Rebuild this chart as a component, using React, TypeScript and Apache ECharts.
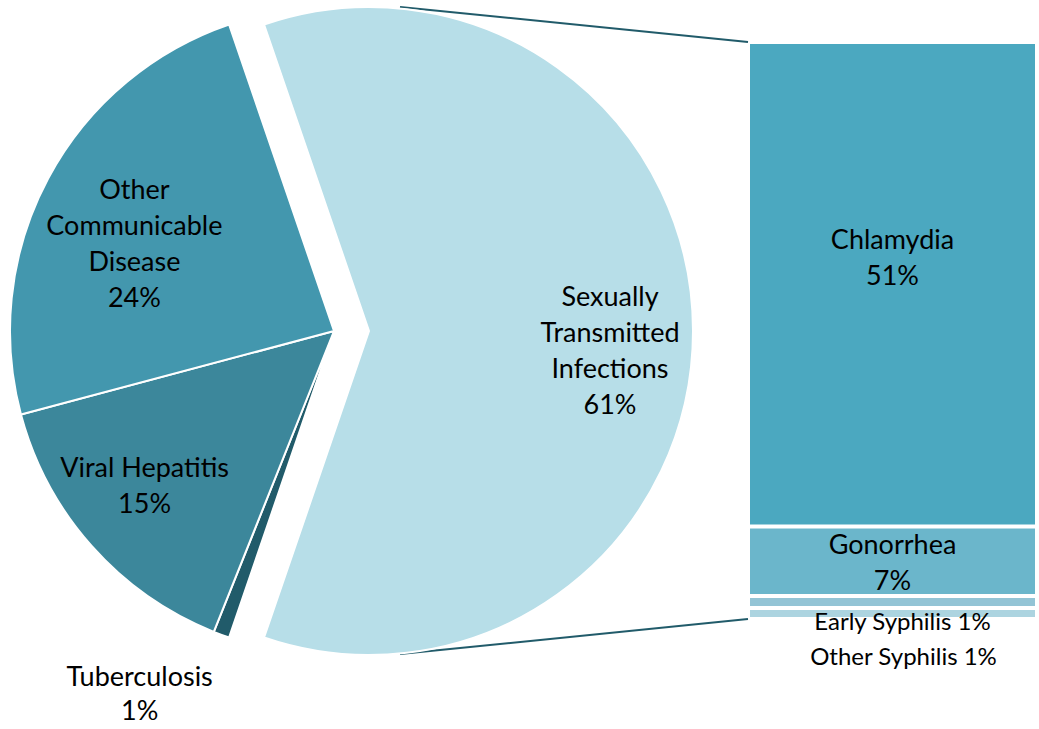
import React, { useEffect, useRef } from "react";
import * as echarts from "echarts";

// Pie (left): share of all reported communicable disease cases
const pieNames = ["Sexually\nTransmitted\nInfections", "Tuberculosis", "Viral Hepatitis", "Other\nCommunicable\nDisease"];
const pieValues = [60.5, 0.8, 14.8, 23.9];
const pieLabels = ["61%", "1%", "15%", "24%"];

// Bar (right): breakdown of Sexually Transmitted Infections (bottom to top)
const barNames = ["Other Syphilis", "Early Syphilis", "Gonorrhea", "Chlamydia"];
const barValues = [1.15, 1.25, 7.3, 50.8];
const barLabels = ["1%", "1%", "7%", "51%"];

const FONT = "Lato, 'Open Sans', sans-serif";

export default function App() {
  const ref = useRef<HTMLDivElement>(null);
  useEffect(() => {
    if (!ref.current) return;
    const chart = echarts.init(ref.current, undefined, { renderer: "svg" });
    const pieColors = ["#b7dee8", "#215b6a", "#3c879b", "#4397ae"];
    const barColors = ["#acd4e0", "#93c4d5", "#6bb6cb", "#4ba8c0"];
    const pieShift: Record<number, [number, number]> = {
      0: [76, 18],
      1: [-137, 207],
      2: [-66, 44],
      3: [-54, -11],
    };
    const barOffsets: [number, number][] = [
      [11, 42],
      [10, 18],
      [0, 0],
      [0, -28],
    ];
    const barInline = [true, true, false, false];
    const total = barValues.reduce((a, b) => a + b, 0);

    chart.setOption({
      animation: false,
      textStyle: { fontFamily: FONT },
      grid: { left: 748, top: 42, width: 289, height: 577 },
      xAxis: { type: "category", data: ["STI"], show: false },
      yAxis: { type: "value", min: 0, max: total, show: false },
      series: [
        {
          type: "pie",
          center: [334, 331],
          radius: [0, 324],
          startAngle: 108.9,
          clockwise: true,
          selectedMode: "single",
          selectedOffset: 35,
          silent: true,
          avoidLabelOverlap: false,
          emphasis: { disabled: true },
          itemStyle: { borderColor: "#ffffff", borderWidth: 2 },
          label: {
            show: true,
            position: "inside",
            color: "#000000",
            fontSize: 27,
            lineHeight: 36,
            fontFamily: FONT,
            align: "center",
            formatter: (p: any) => p.name + "\n" + pieLabels[p.dataIndex],
          },
          labelLine: { show: false },
          labelLayout: (p: any) => {
            const s = pieShift[p.dataIndex] || [0, 0];
            return { dx: s[0], dy: s[1] };
          },
          data: pieNames.map((n, i) => ({
            name: n,
            value: pieValues[i],
            selected: i === 0,
            itemStyle: { color: pieColors[i] },
            label: i === 1 ? { lineHeight: 34 } : undefined,
          })),
        },
        ...barNames.map((n, i) => ({
          type: "bar",
          name: n,
          stack: "sti",
          barWidth: "100%",
          silent: true,
          emphasis: { disabled: true },
          itemStyle: { color: barColors[i], borderColor: "#ffffff", borderWidth: 2 },
          label: {
            show: true,
            position: "inside",
            offset: barOffsets[i],
            color: "#000000",
            fontSize: barInline[i] ? 24 : 27,
            lineHeight: 36,
            fontFamily: FONT,
            formatter: () => (barInline[i] ? n + " " + barLabels[i] : n + "\n" + barLabels[i]),
          },
          data: [barValues[i]],
        })),
      ],
      graphic: [
        { type: "line", shape: { x1: 400, y1: 7, x2: 748, y2: 42 }, style: { stroke: "#215b6a", lineWidth: 2 }, silent: true },
        { type: "line", shape: { x1: 400, y1: 654, x2: 748, y2: 619 }, style: { stroke: "#215b6a", lineWidth: 2 }, silent: true },
      ],
    });
    return () => chart.dispose();
  }, []);
  return <div ref={ref} style={{ width: 1039, height: 729, position: "absolute", left: 0, top: 0 }} />;
}
